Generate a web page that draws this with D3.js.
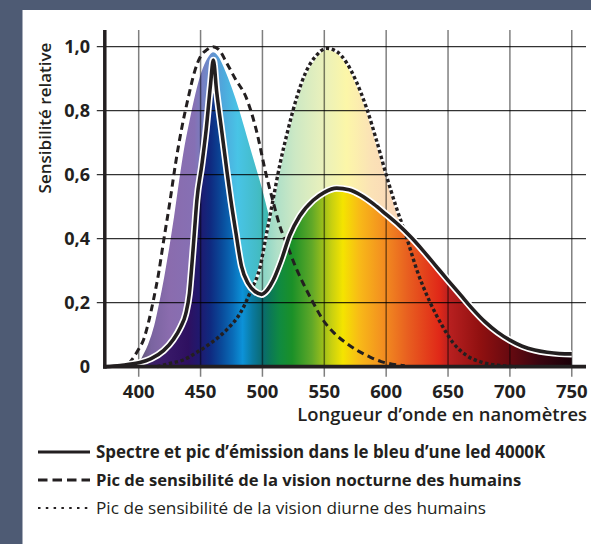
<!DOCTYPE html>
<html>
<head>
<meta charset="utf-8">
<script src="https://cdn.jsdelivr.net/npm/d3@7"></script>
<style>
  html, body { margin: 0; padding: 0; background: #4e5b74; }
  svg { display: block; }
  text { font-family: "Open Sans", "Noto Sans", sans-serif; fill: #231f20; }
</style>
</head>
<body>
<svg id="chart"></svg>
<script>
// LED 4000K spectrum (solid line)
var ledNm = [373, 385, 400, 410, 420, 428, 434, 438, 441, 443, 445, 447, 451, 454.5, 458, 460.3,
  463, 467, 471, 474.5, 478.5, 483, 488.5, 494, 499.3, 504, 508.7, 515, 522, 530, 541, 550, 560,
  570, 580, 590, 600, 610, 620, 630, 640, 650, 660, 670, 680, 690, 700, 710, 720, 730, 740, 750];
var ledValue = [0, 0.004, 0.012, 0.025, 0.05, 0.085, 0.125, 0.165, 0.23, 0.32, 0.42, 0.52, 0.63, 0.74, 0.88, 0.958,
  0.86, 0.74, 0.62, 0.52, 0.42, 0.315, 0.26, 0.235, 0.226, 0.24, 0.27, 0.33, 0.41, 0.47, 0.52, 0.545, 0.558,
  0.553, 0.535, 0.508, 0.476, 0.443, 0.405, 0.362, 0.316, 0.27, 0.225, 0.18, 0.14, 0.108, 0.083, 0.064, 0.052, 0.045, 0.041, 0.04];

// night vision sensitivity (dashed line)
var nightNm = [392, 396, 400, 404, 408, 412, 416, 420, 425, 430, 435, 440, 445, 450, 455, 460, 465, 471, 478,
  487, 495, 503, 509, 514, 520, 527, 533, 541, 549, 558, 568, 578, 587, 596, 605, 615];
var nightValue = [0.01, 0.03, 0.055, 0.085, 0.14, 0.21, 0.29, 0.39, 0.51, 0.64, 0.75, 0.84, 0.92, 0.97, 0.99, 1.0, 0.99, 0.95, 0.9,
  0.84, 0.74, 0.6, 0.51, 0.44, 0.38, 0.31, 0.26, 0.2, 0.146, 0.105, 0.073, 0.048, 0.03, 0.016, 0.008, 0.003];

// light area inside the night curve
var nightFillNm = [398, 402, 407, 412, 416, 420, 424, 428, 432, 436, 440, 445, 450, 455, 460, 465, 470, 476,
  482, 488, 494, 500, 506, 512, 520, 530, 545, 560, 580, 610];
var nightFillValue = [0, 0.03, 0.07, 0.13, 0.2, 0.28, 0.37, 0.47, 0.58, 0.68, 0.76, 0.85, 0.92, 0.965, 0.985, 0.97, 0.93, 0.87,
  0.8, 0.72, 0.64, 0.56, 0.47, 0.39, 0.3, 0.21, 0.11, 0.05, 0.015, 0];

// day vision sensitivity (dotted line)
var dayNm = [415, 425, 436, 447, 458, 471, 482, 491, 498, 503, 508, 514, 520, 528, 535, 543, 552, 560, 568,
  576, 584, 592, 600, 608, 616, 625, 635, 645, 654, 665, 678, 692, 705];
var dayValue = [0, 0.01, 0.021, 0.045, 0.073, 0.115, 0.167, 0.24, 0.31, 0.41, 0.51, 0.63, 0.73, 0.845, 0.92, 0.97, 0.995, 0.985, 0.95,
  0.89, 0.81, 0.71, 0.6, 0.5, 0.41, 0.3, 0.205, 0.13, 0.075, 0.035, 0.013, 0.004, 0];

var xTicks = [400, 450, 500, 550, 600, 650, 700, 750];
var yTicks = [0, 0.2, 0.4, 0.6, 0.8, 1.0];
var yTickLabels = ["0", "0,2", "0,4", "0,6", "0,8", "1,0"];

var legendLabels = [
  "Spectre et pic d\u2019émission dans le bleu d\u2019une led 4000K",
  "Pic de sensibilité de la vision nocturne des humains",
  "Pic de sensibilité de la vision diurne des humains"
];

// colour stops (nm, colour)
var spectrumStops = [[372, "#4a4a5a"], [395, "#3e2c5c"], [420, "#3a1a6a"], [440, "#2e1060"], [450, "#1e1a70"],
  [458, "#0f2a80"], [467, "#0a4a9a"], [476, "#0a6cb8"], [484, "#0c92d8"], [492, "#0a7aa0"], [500, "#0a6a70"],
  [507, "#0b7a55"], [514, "#108a40"], [524, "#1a9028"], [540, "#60a828"], [556, "#c8d010"], [565, "#f4e400"],
  [579, "#f8b818"], [597, "#f39020"], [617, "#e86020"], [643, "#e02818"], [651, "#b82020"], [676, "#901010"],
  [698, "#6a0a10"], [724, "#3a0510"], [750, "#1a0008"]];
var nightStops = [[398, "#5a5468"], [410, "#7a64a0"], [425, "#8a6cae"], [445, "#8670b4"], [457, "#6a8ccc"],
  [468, "#4ea8dc"], [480, "#48c4e6"], [495, "#44bcc8"], [510, "#3cb8a0"]];
var dayStops = [[502, "#8fd6c6"], [512, "#b0e0c8"], [526, "#cce8c4"], [548, "#e8f0bc"], [568, "#fcf6a8"],
  [588, "#fbe2b6"], [605, "#fad8b8"], [640, "#f8d0b0"]];

var W = 591, H = 544;
var ink = "#231f20";

var svg = d3.select('svg#chart')
  .attr('width', W)
  .attr('height', H);

svg.append('rect').attr('width', W).attr('height', H).attr('fill', '#4e5b74');
svg.append('rect').attr('x', 22.5).attr('y', 10).attr('width', W - 22.5).attr('height', H - 10).attr('fill', '#fff');

var x = d3.scaleLinear().domain([372.6, 761.5]).range([104.8, 586]);
var y = d3.scaleLinear().domain([0, 1]).range([366.7, 46.7]);
var yTop = 30;

function pairs(nms, vals) {
  return nms.map(function(n, i) { return [n, vals[i]]; });
}

function gradient(id, stops) {
  var g = defs.append('linearGradient')
    .attr('id', id)
    .attr('gradientUnits', 'userSpaceOnUse')
    .attr('x1', x(370)).attr('x2', x(760))
    .attr('y1', 0).attr('y2', 0);
  g.selectAll('stop')
    .data(stops)
    .enter()
    .append('stop')
    .attr('offset', function(d) { return (x(d[0]) - x(370)) / (x(760) - x(370)); })
    .attr('stop-color', function(d) { return d[1]; });
}

var defs = svg.append('defs');
gradient('spectrum', spectrumStops);
gradient('nightGrad', nightStops);
gradient('dayGrad', dayStops);

var area = d3.area()
  .curve(d3.curveMonotoneX)
  .x(function(d) { return x(d[0]); })
  .y0(y(0))
  .y1(function(d) { return y(d[1]); });

var line = d3.line()
  .curve(d3.curveMonotoneX)
  .x(function(d) { return x(d[0]); })
  .y(function(d) { return y(d[1]); });

var led = pairs(ledNm, ledValue);
var night = pairs(nightNm, nightValue);
var nightFill = pairs(nightFillNm, nightFillValue);
var day = pairs(dayNm, dayValue);

// pale areas
svg.append('path')
  .attr('d', area(nightFill))
  .attr('fill', 'url(#nightGrad)')
  .attr('stroke', '#fff')
  .attr('stroke-width', 1.5);

svg.append('path')
  .attr('d', area(day))
  .attr('fill', 'url(#dayGrad)')
  .attr('stroke', '#fff')
  .attr('stroke-width', 3);

// LED spectrum
svg.append('path')
  .attr('d', area(led))
  .attr('fill', 'url(#spectrum)');

// grid
var grid = svg.append('g');
grid.selectAll('line.v')
  .data(xTicks)
  .enter()
  .append('line')
  .attr('x1', x).attr('x2', x)
  .attr('y1', yTop).attr('y2', y(0) + 10)
  .attr('stroke', '#000')
  .attr('stroke-opacity', 0.5)
  .attr('stroke-width', 1.5);

grid.selectAll('line.h')
  .data(yTicks.slice(1))
  .enter()
  .append('line')
  .attr('x1', x.range()[0] - 8).attr('x2', 586)
  .attr('y1', y).attr('y2', y)
  .attr('stroke', '#000')
  .attr('stroke-opacity', 0.8)
  .attr('stroke-width', 1.3);

// sensitivity curves
svg.append('path')
  .attr('d', line(day))
  .attr('fill', 'none')
  .attr('stroke', ink)
  .attr('stroke-width', 3.4)
  .attr('stroke-dasharray', '3.4,2.6');

svg.append('path')
  .attr('d', line(night))
  .attr('fill', 'none')
  .attr('stroke', ink)
  .attr('stroke-width', 3)
  .attr('stroke-dasharray', '7,4.5');

svg.append('path')
  .attr('d', line(led))
  .attr('fill', 'none')
  .attr('stroke', '#fff')
  .attr('stroke-width', 7)
  .attr('stroke-linejoin', 'round');

svg.append('path')
  .attr('d', line(led))
  .attr('fill', 'none')
  .attr('stroke', ink)
  .attr('stroke-width', 3.6)
  .attr('stroke-linejoin', 'round');

// axes
svg.append('line')
  .attr('x1', x.range()[0]).attr('x2', x.range()[0])
  .attr('y1', yTop).attr('y2', y(0) + 2)
  .attr('stroke', ink).attr('stroke-width', 3.5);
svg.append('line')
  .attr('x1', x.range()[0] - 1.7).attr('x2', 586)
  .attr('y1', y(0)).attr('y2', y(0))
  .attr('stroke', ink).attr('stroke-width', 3.8);

svg.selectAll('text.ytick')
  .data(yTicks)
  .enter()
  .append('text')
  .attr('x', 90)
  .attr('y', function(d) { return y(d) + 6.5; })
  .attr('text-anchor', 'end')
  .style('font-size', '18px')
  .style('font-weight', 700)
  .text(function(d, i) { return yTickLabels[i]; });

svg.selectAll('text.xtick')
  .data(xTicks)
  .enter()
  .append('text')
  .attr('x', x)
  .attr('y', 398)
  .attr('text-anchor', 'middle')
  .style('font-size', '18.5px')
  .style('font-weight', 700)
  .text(function(d) { return d; });

svg.append('text')
  .attr('transform', 'translate(51,118) rotate(-90)')
  .attr('text-anchor', 'middle')
  .style('font-size', '17px')
  .style('font-weight', 600)
  .text('Sensibilité relative');

svg.append('text')
  .attr('x', 587)
  .attr('y', 421)
  .attr('text-anchor', 'end')
  .style('font-size', '18.4px')
  .style('font-weight', 600)
  .text('Longueur d\u2019onde en nanomètres');

// legend
var dashes = [null, '9.5,5', '2.5,5.3'];
var widths = [3, 3, 2.2];
var weights = [700, 700, 400];
var sizes = [16.9, 16.6, 17.2];
var legend = svg.selectAll('g.legend')
  .data(legendLabels)
  .enter()
  .append('g')
  .attr('transform', function(d, i) { return 'translate(0,' + (452 + i * 28) + ')'; });

legend.append('line')
  .attr('x1', 38).attr('x2', 90)
  .attr('stroke', ink)
  .attr('stroke-width', function(d, i) { return widths[i]; })
  .attr('stroke-dasharray', function(d, i) { return dashes[i]; });

legend.append('text')
  .attr('x', 96)
  .attr('y', 6)
  .style('font-size', function(d, i) { return sizes[i] + 'px'; })
  .style('font-weight', function(d, i) { return weights[i]; })
  .text(function(d) { return d; });
</script>
</body>
</html>
